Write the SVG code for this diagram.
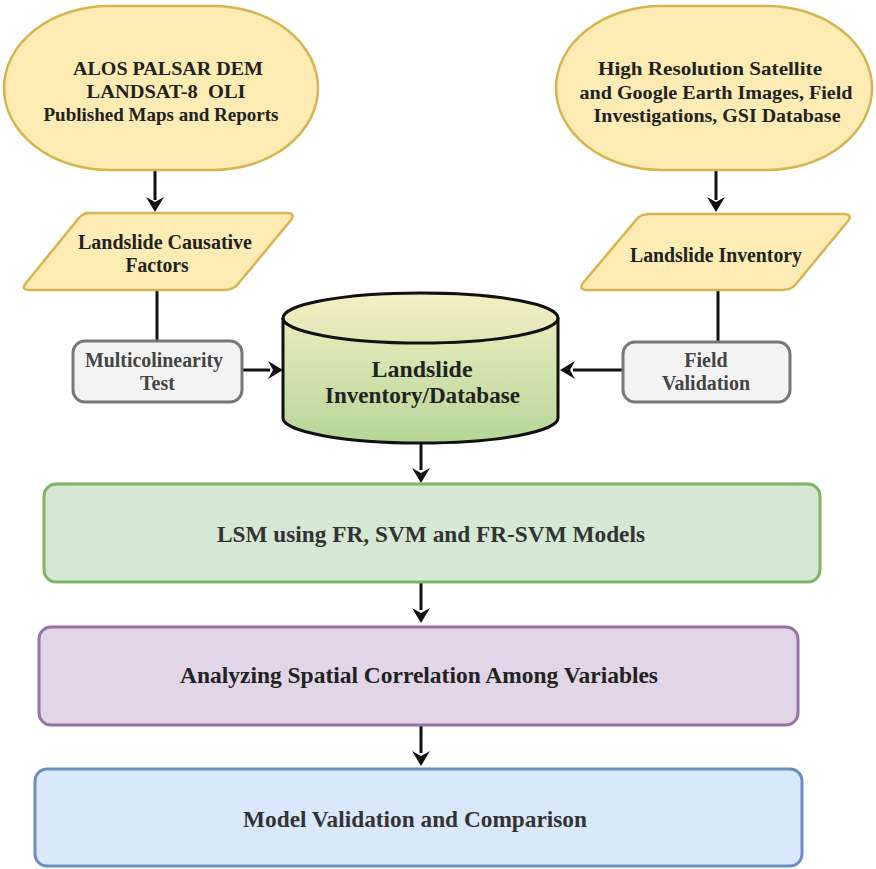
<svg xmlns="http://www.w3.org/2000/svg" width="876" height="869" viewBox="0 0 876 869">
<style>
.t{font-family:"Liberation Serif","Times New Roman",serif;font-weight:bold;fill:#222;text-anchor:middle}
.g{fill:#444}
.d{fill:#333}
.yel{fill:#fcebb3;stroke:#d6b44f;stroke-width:2.5}
.gray{fill:#f3f3f3;stroke:#777;stroke-width:3}
.ln{stroke:#111;stroke-width:3;fill:none}
.ah{fill:#111}
</style>
<defs>
<linearGradient id="cyl" x1="0" y1="0" x2="0" y2="1">
<stop offset="0" stop-color="#f5efc4"/>
<stop offset="1" stop-color="#b5d697"/>
</linearGradient>
</defs>
<rect width="876" height="869" fill="#fff"/>
<g id="connectors">
<path class="ln" d="M155,171 V200"/>
<path class="ah" d="M146,197 L155,212 L164,197 L155,202 Z"/>
<path class="ln" d="M716,171 V200"/>
<path class="ah" d="M707,197 L716,212 L725,197 L716,202 Z"/>
<path class="ln" d="M157,290 V340"/>
<path class="ln" d="M718,290 V341"/>
<path class="ln" d="M242,370 H270"/>
<path class="ah" d="M268,361 L283,370 L268,379 L273,370 Z"/>
<path class="ln" d="M622,370 H573"/>
<path class="ah" d="M575,361 L560,370 L575,379 L570,370 Z"/>
<path class="ln" d="M421,443 V470"/>
<path class="ah" d="M412,468 L421,483 L430,468 L421,473 Z"/>
<path class="ln" d="M421,582 V610"/>
<path class="ah" d="M412,608 L421,623 L430,608 L421,613 Z"/>
<path class="ln" d="M421,725 V753"/>
<path class="ah" d="M412,751 L421,766 L430,751 L421,756 Z"/>
</g>
<g id="src1">
<rect class="yel" x="4" y="6" width="314" height="164" rx="105" ry="82"/>
<text class="t" x="168" y="75" font-size="19.5" textLength="190" lengthAdjust="spacingAndGlyphs">ALOS PALSAR DEM</text>
<text class="t" x="166" y="98" font-size="19.5" xml:space="preserve" textLength="159" lengthAdjust="spacingAndGlyphs">LANDSAT-8  OLI</text>
<text class="t" x="161" y="121" font-size="19.5" textLength="235" lengthAdjust="spacingAndGlyphs">Published Maps and Reports</text>
</g>
<g id="src2">
<rect class="yel" x="556" y="6" width="316" height="164" rx="105" ry="82"/>
<text class="t" x="710" y="75" font-size="19.5" textLength="224" lengthAdjust="spacingAndGlyphs">High Resolution Satellite</text>
<text class="t" x="716" y="99" font-size="19.5" textLength="273" lengthAdjust="spacingAndGlyphs">and Google Earth Images, Field</text>
<text class="t" x="717" y="122" font-size="19.5" textLength="247" lengthAdjust="spacingAndGlyphs">Investigations, GSI Database</text>
</g>
<g id="factors">
<path class="yel" d="M84,213 H286 Q296,213 291,220 L238,284 Q233,290 224,290 H30 Q20,290 26,283 L78,219 Q82,213 92,213 Z"/>
<text class="t" x="165" y="249" font-size="20" textLength="174" lengthAdjust="spacingAndGlyphs">Landslide Causative</text>
<text class="t" x="157" y="272" font-size="20" textLength="63" lengthAdjust="spacingAndGlyphs">Factors</text>
</g>
<g id="inventory">
<path class="yel" d="M646,214 H843 Q853,214 848,221 L796,284 Q791,290 782,290 H588 Q578,290 583,283 L636,220 Q640,214 650,214 Z"/>
<text class="t" x="716" y="262" font-size="20" textLength="172" lengthAdjust="spacingAndGlyphs">Landslide Inventory</text>
</g>
<g id="multicol">
<rect class="gray" x="73" y="341" width="169" height="61" rx="12"/>
<text class="t g" x="154" y="367" font-size="20" textLength="138" lengthAdjust="spacingAndGlyphs">Multicolinearity</text>
<text class="t g" x="157.5" y="390" font-size="20">Test</text>
</g>
<g id="fieldval">
<rect class="gray" x="623" y="342" width="167" height="60" rx="12"/>
<text class="t g" x="706" y="367" font-size="20">Field</text>
<text class="t g" x="706" y="390" font-size="20" textLength="88" lengthAdjust="spacingAndGlyphs">Validation</text>
</g>
<g id="database">
<path d="M283,318 V418 A137.5,25 0 0 0 558,418 V318 A137.5,25 0 0 0 283,318 Z" fill="url(#cyl)" stroke="#111" stroke-width="3"/>
<path d="M283,318 A137.5,25 0 0 0 558,318" fill="none" stroke="#111" stroke-width="3"/>
<text class="t" x="422" y="377" font-size="23" textLength="101" lengthAdjust="spacingAndGlyphs">Landslide</text>
<text class="t" x="422.5" y="403" font-size="23" textLength="195" lengthAdjust="spacingAndGlyphs">Inventory/Database</text>
</g>
<g id="lsm">
<rect x="44" y="484" width="776" height="98" rx="12" fill="#d5e8d4" stroke="#82b366" stroke-width="3"/>
<text class="t d" x="431" y="542" font-size="23" textLength="428" lengthAdjust="spacingAndGlyphs">LSM using FR, SVM and FR-SVM Models</text>
</g>
<g id="spatial">
<rect x="39" y="627" width="759" height="98" rx="12" fill="#e1d5e7" stroke="#9673a6" stroke-width="3"/>
<text class="t" x="419" y="683" font-size="23" textLength="478" lengthAdjust="spacingAndGlyphs">Analyzing Spatial Correlation Among Variables</text>
</g>
<g id="validation">
<rect x="35" y="769" width="767" height="97" rx="12" fill="#dae8fc" stroke="#6c8ebf" stroke-width="3"/>
<text class="t d" x="415" y="827" font-size="23" textLength="344" lengthAdjust="spacingAndGlyphs">Model Validation and Comparison</text>
</g>
</svg>
